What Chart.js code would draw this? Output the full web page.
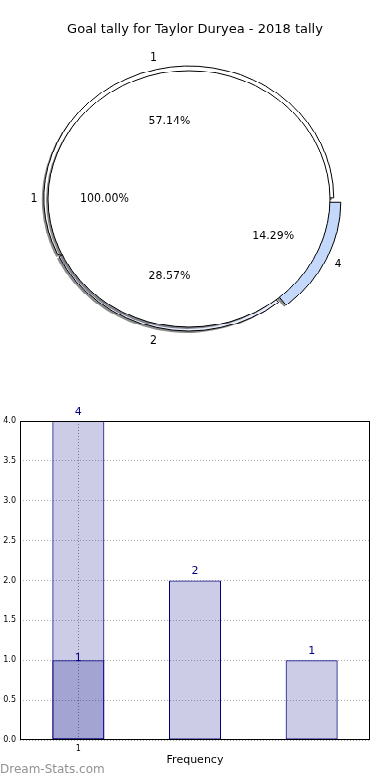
<!DOCTYPE html>
<html>
<head>
<meta charset="utf-8">
<script src="https://cdn.jsdelivr.net/npm/chart.js@4.4.1/dist/chart.umd.min.js"></script>
<style>
  body { margin: 0; background: #fff; width: 390px; height: 780px; overflow: hidden; position: relative; font-family: "DejaVu Sans", sans-serif; }
  #title { position: absolute; left: 0; top: 21px; width: 390px; text-align: center; font-size: 13px; color: #000; z-index: 3; }
  #pieWrap { position: absolute; left: 0; top: 25.6px; width: 378px; height: 380px; transform: scaleY(0.91); transform-origin: 0 0; }
  #pieWrap canvas { position: absolute; left: 0; top: 0; }
  #barWrap { position: absolute; left: 0; top: 400px; width: 390px; height: 380px; }
  #mark { position: absolute; left: 0; top: 762px; font-size: 12px; color: #929292; z-index: 3; }
</style>
</head>
<body>
<div id="title">Goal tally for Taylor Duryea - 2018 tally</div>
<div id="pieWrap">
  <canvas id="pieBack" width="378" height="380"></canvas>
  <canvas id="pieFront" width="378" height="380"></canvas>
</div>
<div id="barWrap"><canvas id="bars" width="390" height="380"></canvas></div>
<div id="mark">Dream-Stats.com</div>
<script>
// outer pie (exploded), matplotlib order, counter-clockwise from 3 o'clock
var pieLabels = ['1', '2', '4'];
var pieValues = [4, 2, 1];
var pieColors = ['#ffffff', '#e7edfd', '#c4d8fb'];
var pieOffsets = [4, 4, 28];

// inner pie on top
var innerLabels = ['1'];
var innerValues = [1];

// bar chart
var barCategories = ['1', '', ''];
var barValues = [4, 2, 1];
var overlayValues = [1, null, null];
var valueGap = [9, 2.5];

var squash = 0.91;

// chart.js runs clockwise, so flip the arrays to get matplotlib's ccw layout
function rev(a) { return a.slice().reverse(); }

// matplotlib style drop shadow: filled copy of each wedge, shifted down-left
var shadowPlugin = {
    id: 'shadow',
    beforeDatasetsDraw: function (chart) {
        var ctx = chart.ctx;
        ctx.save();
        ctx.fillStyle = 'rgba(0,0,0,0.45)';
        chart.getDatasetMeta(0).data.forEach(function (arc) {
            var mid = (arc.startAngle + arc.endAngle) / 2;
            var t = (arc.options.offset || 0) / 4;
            var fix = 1 - Math.sin(Math.min(Math.PI, arc.circumference));
            var r = arc.outerRadius + t * fix;
            var x = arc.x + Math.cos(mid) * t - 2;
            var y = arc.y + Math.sin(mid) * t + 2;
            ctx.beginPath();
            if (arc.circumference < Math.PI * 2 - 1e-6) ctx.moveTo(x, y);
            ctx.arc(x, y, r, arc.startAngle, arc.endAngle);
            ctx.closePath();
            ctx.fill();
        });
        ctx.restore();
    }
};

var backChart = new Chart(document.getElementById('pieBack'), {
    type: 'pie',
    data: {
        labels: rev(pieLabels),
        datasets: [{
            data: rev(pieValues),
            backgroundColor: rev(pieColors),
            offset: rev(pieOffsets),
            borderColor: '#000',
            borderWidth: 1
        }]
    },
    options: {
        responsive: false,
        animation: false,
        events: [],
        rotation: 90,
        radius: 144,
        layout: { padding: 0 },
        plugins: { legend: { display: false }, tooltip: { enabled: false } }
    },
    plugins: [shadowPlugin]
});

function putText(ctx, x, y, txt) {
    ctx.save();
    ctx.translate(x, y);
    ctx.scale(1, 1 / squash);
    ctx.fillText(txt, 0, 0);
    ctx.restore();
}

var pieLabelPlugin = {
    id: 'pieLabels',
    afterDatasetsDraw: function (chart) {
        // outline of the full inner circle (no radial seam)
        var ctx = chart.ctx;
        chart.getDatasetMeta(0).data.forEach(function (arc) {
            ctx.save();
            ctx.strokeStyle = '#000';
            ctx.lineWidth = 1;
            ctx.beginPath();
            ctx.arc(arc.x, arc.y, arc.outerRadius, 0, Math.PI * 2);
            ctx.stroke();
            ctx.restore();
        });
    },
    afterDraw: function (chart) {
        var ctx = chart.ctx;
        ctx.save();
        ctx.font = '11px "DejaVu Sans"';
        ctx.fillStyle = '#000';
        ctx.textAlign = 'center';
        ctx.textBaseline = 'middle';
        [backChart, chart].forEach(function (c) {
            var vals = c.data.datasets[0].data;
            var total = vals.reduce(function (a, b) { return a + b; }, 0);
            c.getDatasetMeta(0).data.forEach(function (arc, i) {
                var mid = (arc.startAngle + arc.endAngle) / 2;
                var shift = (arc.options.offset || 0) / 4;
                var r = arc.outerRadius;
                var pct = (vals[i] / total * 100).toFixed(2) + '%';
                putText(ctx, arc.x + Math.cos(mid) * (r * 0.6 + shift), arc.y + Math.sin(mid) * (r * 0.6 + shift), pct);
                putText(ctx, arc.x + Math.cos(mid) * (r * 1.1 + shift), arc.y + Math.sin(mid) * (r * 1.1 + shift), c.data.labels[i]);
            });
        });
        ctx.restore();
    }
};

new Chart(document.getElementById('pieFront'), {
    type: 'pie',
    data: {
        labels: innerLabels,
        datasets: [{
            data: innerValues,
            backgroundColor: '#ffffff',
            borderWidth: 0
        }]
    },
    options: {
        responsive: false,
        animation: false,
        events: [],
        rotation: 90,
        radius: 141,
        layout: { padding: 0 },
        plugins: { legend: { display: false }, tooltip: { enabled: false } }
    },
    plugins: [shadowPlugin, pieLabelPlugin]
});

// ---- bar chart ----
var framePlugin = {
    id: 'frame',
    afterDatasetsDraw: function (chart) {
        var ctx = chart.ctx;
        var a = chart.chartArea;
        ctx.save();
        // value labels
        ctx.font = '11px "DejaVu Sans"';
        ctx.fillStyle = '#000080';
        ctx.textAlign = 'center';
        ctx.textBaseline = 'middle';
        chart.data.datasets.forEach(function (ds, d) {
            chart.getDatasetMeta(d).data.forEach(function (bar, i) {
                if (ds.data[i] == null) return;
                ctx.fillText(String(ds.data[i]), bar.x, bar.y - valueGap[d]);
            });
        });
        ctx.strokeStyle = '#000';
        ctx.lineWidth = 1;
        ctx.strokeRect(Math.round(a.left) + 0.5, Math.round(a.top) + 0.5,
            Math.round(a.right - a.left) - 1, Math.round(a.bottom - a.top) - 1);
        ctx.restore();
    }
};

new Chart(document.getElementById('bars'), {
    type: 'bar',
    data: {
        labels: barCategories,
        datasets: [{
            data: barValues,
            backgroundColor: 'rgba(0,0,128,0.2)',
            borderColor: '#000080',
            borderWidth: 1,
            borderSkipped: false,
            grouped: false,
            barPercentage: 1,
            categoryPercentage: 0.446
        }, {
            data: overlayValues,
            backgroundColor: 'rgba(0,0,128,0.2)',
            borderColor: '#000080',
            borderWidth: 1,
            borderSkipped: false,
            grouped: false,
            barPercentage: 1,
            categoryPercentage: 0.446
        }]
    },
    options: {
        responsive: false,
        animation: false,
        events: [],
        layout: { padding: { top: 21, right: 20, left: 0, bottom: 0 } },
        plugins: { legend: { display: false }, tooltip: { enabled: false } },
        scales: {
            x: {
                offset: true,
                afterFit: function (s) { s.height = 40; },
                grid: {
                    offset: false,
                    drawTicks: false,
                    color: function (c) { return c.index === 0 ? '#9a9a9a' : 'rgba(0,0,0,0)'; }
                },
                border: { display: false, dash: [1, 2] },
                ticks: { padding: 4, color: '#000', font: { family: 'DejaVu Sans', size: 8 }, maxRotation: 0 },
                title: { display: true, text: 'Frequency', color: '#000', font: { family: 'DejaVu Sans', size: 11 }, padding: { top: 4, bottom: 13 } }
            },
            y: {
                min: 0,
                max: 4,
                afterFit: function (s) { s.width = 20; },
                grid: { color: '#b0b0b0', drawTicks: false },
                border: { display: false, dash: [1, 2] },
                ticks: {
                    stepSize: 0.5,
                    padding: 4,
                    color: '#000',
                    font: { family: 'DejaVu Sans', size: 8 },
                    callback: function (v) { return v.toFixed(1); }
                }
            }
        }
    },
    plugins: [framePlugin]
});
</script>
</body>
</html>
